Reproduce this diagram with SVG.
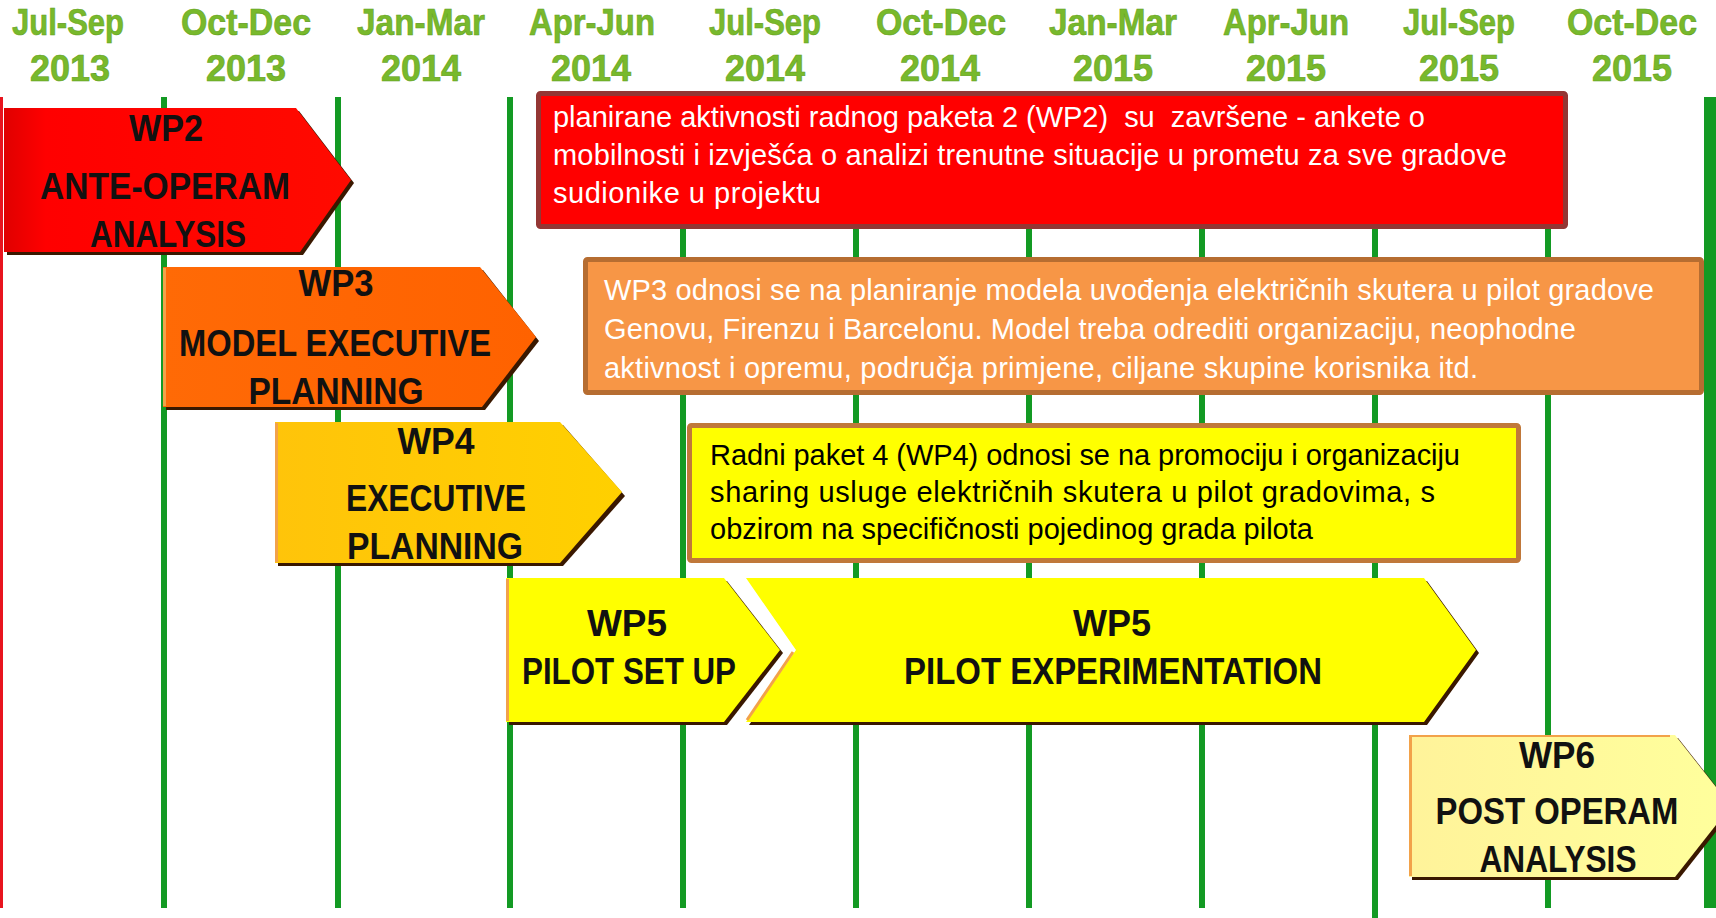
<svg xmlns="http://www.w3.org/2000/svg" width="1716" height="918" viewBox="0 0 1716 918">
<defs>
<style>
.hdr{font-family:"Liberation Sans",Arial,sans-serif;font-weight:bold;font-size:36px;fill:#78b92c;stroke:#62a01e;stroke-width:0.6;text-anchor:middle}
.lbl{font-family:"Liberation Sans",Arial,sans-serif;font-weight:bold;font-size:36px;fill:#111;text-anchor:middle}
.body{font-family:"Liberation Sans",Arial,sans-serif;font-size:29px}
.grid{stroke:#139a23;stroke-width:6}
.shadow{fill:#3a1800}
.edge{stroke:#f2a24a;stroke-width:3}
</style>
<linearGradient id="gRed" x1="0" y1="0" x2="1" y2="0">
<stop offset="0" stop-color="#e00000"/><stop offset="0.12" stop-color="#ff0000"/><stop offset="1" stop-color="#ff0a00"/>
</linearGradient>
<linearGradient id="gOrange" x1="0" y1="0" x2="1" y2="0">
<stop offset="0" stop-color="#ff6a06"/><stop offset="1" stop-color="#ff6200"/>
</linearGradient>
<linearGradient id="gGold" x1="0" y1="0" x2="1" y2="0">
<stop offset="0" stop-color="#ffc40a"/><stop offset="1" stop-color="#ffd000"/>
</linearGradient>
<linearGradient id="gPale" x1="0" y1="0" x2="1" y2="0">
<stop offset="0" stop-color="#fff39a"/><stop offset="1" stop-color="#ffff9c"/>
</linearGradient>
</defs>
<rect x="0" y="0" width="1716" height="918" fill="#ffffff"/>

<g id="connectors">
<line x1="1.5" y1="97" x2="1.5" y2="908" stroke="#e8141e" stroke-width="3"/>
<line class="grid" x1="164" y1="97" x2="164" y2="908"/>
<line class="grid" x1="338" y1="97" x2="338" y2="908"/>
<line class="grid" x1="510" y1="97" x2="510" y2="908"/>
<line class="grid" x1="683" y1="97" x2="683" y2="908"/>
<line class="grid" x1="856" y1="97" x2="856" y2="908"/>
<line class="grid" x1="1029" y1="97" x2="1029" y2="908"/>
<line class="grid" x1="1202" y1="97" x2="1202" y2="908"/>
<line class="grid" x1="1375" y1="97" x2="1375" y2="918"/>
<line class="grid" x1="1548" y1="97" x2="1548" y2="908"/>
<line x1="1710" y1="97" x2="1710" y2="908" stroke="#139a23" stroke-width="12"/>
</g>

<g id="header">
<text class="hdr" x="68" y="35" textLength="112" lengthAdjust="spacingAndGlyphs">Jul-Sep</text><text class="hdr" x="70" y="81">2013</text>
<text class="hdr" x="246" y="35" textLength="130" lengthAdjust="spacingAndGlyphs">Oct-Dec</text><text class="hdr" x="246" y="81">2013</text>
<text class="hdr" x="421" y="35" textLength="128" lengthAdjust="spacingAndGlyphs">Jan-Mar</text><text class="hdr" x="421" y="81">2014</text>
<text class="hdr" x="592" y="35" textLength="126" lengthAdjust="spacingAndGlyphs">Apr-Jun</text><text class="hdr" x="591" y="81">2014</text>
<text class="hdr" x="765" y="35" textLength="112" lengthAdjust="spacingAndGlyphs">Jul-Sep</text><text class="hdr" x="765" y="81">2014</text>
<text class="hdr" x="941" y="35" textLength="130" lengthAdjust="spacingAndGlyphs">Oct-Dec</text><text class="hdr" x="940" y="81">2014</text>
<text class="hdr" x="1113" y="35" textLength="128" lengthAdjust="spacingAndGlyphs">Jan-Mar</text><text class="hdr" x="1113" y="81">2015</text>
<text class="hdr" x="1286" y="35" textLength="126" lengthAdjust="spacingAndGlyphs">Apr-Jun</text><text class="hdr" x="1286" y="81">2015</text>
<text class="hdr" x="1459" y="35" textLength="112" lengthAdjust="spacingAndGlyphs">Jul-Sep</text><text class="hdr" x="1459" y="81">2015</text>
<text class="hdr" x="1632" y="35" textLength="130" lengthAdjust="spacingAndGlyphs">Oct-Dec</text><text class="hdr" x="1632" y="81">2015</text>
</g>

<g id="wp2">
<polygon class="shadow" points="7,111 299,111 354,183 303,255 7,255"/>
<polygon points="4,108 296,108 351,180 300,252 4,252" fill="url(#gRed)"/>
<text class="lbl" x="166" y="141" textLength="74" lengthAdjust="spacingAndGlyphs">WP2</text>
<text class="lbl" x="165" y="199" textLength="250" lengthAdjust="spacingAndGlyphs">ANTE-OPERAM</text>
<text class="lbl" x="168" y="247" textLength="156" lengthAdjust="spacingAndGlyphs">ANALYSIS</text>
</g>

<g id="wp2-note">
<rect x="538.5" y="93.5" width="1027" height="133" rx="2" fill="#ff0000" stroke="#943634" stroke-width="5"/>
<text class="body" fill="#ffffff" xml:space="preserve"><tspan x="553" y="127" textLength="872">planirane aktivnosti radnog paketa 2 (WP2)  su  završene - ankete o</tspan><tspan x="553" y="165" textLength="954">mobilnosti i izvješća o analizi trenutne situacije u prometu za sve gradove</tspan><tspan x="553" y="203" textLength="268">sudionike u projektu</tspan></text>
</g>

<g id="wp3">
<polygon class="shadow" points="166,270 483,270 539,341 485,410 166,410"/>
<polygon points="163,267 480,267 536,337 482,407 163,407" fill="url(#gOrange)"/>
<line class="edge" x1="164.5" y1="268" x2="164.5" y2="406"/>
<text class="lbl" x="336" y="296" textLength="75" lengthAdjust="spacingAndGlyphs">WP3</text>
<text class="lbl" x="335" y="356" textLength="312" lengthAdjust="spacingAndGlyphs">MODEL EXECUTIVE</text>
<text class="lbl" x="336" y="404" textLength="175" lengthAdjust="spacingAndGlyphs">PLANNING</text>
</g>

<g id="wp3-note">
<rect x="585.5" y="259.5" width="1116" height="133" rx="2" fill="#f79646" stroke="#b66d31" stroke-width="5"/>
<text class="body" fill="#ffffff"><tspan x="604" y="300" textLength="1050">WP3 odnosi se na planiranje modela uvođenja električnih skutera u pilot gradove</tspan><tspan x="604" y="339" textLength="972">Genovu, Firenzu i Barcelonu. Model treba odrediti organizaciju, neophodne</tspan><tspan x="604" y="378" textLength="874">aktivnost i opremu, područja primjene, ciljane skupine korisnika itd.</tspan></text>
</g>

<g id="wp4">
<polygon class="shadow" points="278,425 563,425 625,496 563,566 278,566"/>
<polygon points="275,422 560,422 622,492 560,563 275,563" fill="url(#gGold)"/>
<line class="edge" x1="276.5" y1="423" x2="276.5" y2="562"/>
<text class="lbl" x="436" y="454" textLength="77" lengthAdjust="spacingAndGlyphs">WP4</text>
<text class="lbl" x="436" y="511" textLength="180" lengthAdjust="spacingAndGlyphs">EXECUTIVE</text>
<text class="lbl" x="435" y="559" textLength="176" lengthAdjust="spacingAndGlyphs">PLANNING</text>
</g>

<g id="wp4-note">
<rect x="689.5" y="425.5" width="829" height="135" rx="2" fill="#ffff00" stroke="#c0783a" stroke-width="5"/>
<text class="body" fill="#000000"><tspan x="710" y="465" textLength="750">Radni paket 4 (WP4) odnosi se na promociju i organizaciju</tspan><tspan x="710" y="502" textLength="725">sharing usluge električnih skutera u pilot gradovima, s</tspan><tspan x="710" y="539">obzirom na specifičnosti pojedinog grada pilota</tspan></text>
</g>

<g id="wp5-setup">
<polygon class="shadow" points="509,581 727,581 783,653 727,725 509,725"/>
<polygon points="506,578 724,578 780,650 724,722 506,722" fill="#ffff00"/>
<line class="edge" x1="507.5" y1="579" x2="507.5" y2="721"/>
<text class="lbl" x="627" y="636" textLength="80" lengthAdjust="spacingAndGlyphs">WP5</text>
<text class="lbl" x="629" y="684" textLength="214" lengthAdjust="spacingAndGlyphs">PILOT SET UP</text>
</g>

<g id="wp5-exp">
<polygon class="shadow" points="749,581 1427,581 1479,653 1427,725 749,725 799,653"/>
<polygon points="746,578 1424,578 1476,650 1424,722 746,722 796,650" fill="#ffff00"/>
<line class="edge" x1="747" y1="720" x2="793" y2="652"/>
<text class="lbl" x="1112" y="636" textLength="78" lengthAdjust="spacingAndGlyphs">WP5</text>
<text class="lbl" x="1113" y="684" textLength="418" lengthAdjust="spacingAndGlyphs">PILOT EXPERIMENTATION</text>
</g>

<g id="wp6">
<polygon class="shadow" points="1412,738 1678,738 1734,809 1678,880 1412,880"/>
<polygon points="1409,735 1675,735 1731,806 1675,877 1409,877" fill="url(#gPale)"/>
<line class="edge" x1="1410.5" y1="736" x2="1410.5" y2="876"/>
<line x1="1409" y1="736" x2="1670" y2="736" stroke="#f2a24a" stroke-width="2"/>
<text class="lbl" x="1557" y="768" textLength="76" lengthAdjust="spacingAndGlyphs">WP6</text>
<text class="lbl" x="1557" y="824" textLength="243" lengthAdjust="spacingAndGlyphs">POST OPERAM</text>
<text class="lbl" x="1558" y="872" textLength="157" lengthAdjust="spacingAndGlyphs">ANALYSIS</text>
</g>
</svg>
